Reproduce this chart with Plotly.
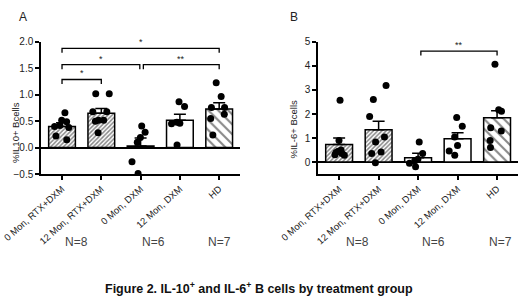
import plotly.graph_objects as go

# ---------------- data ----------------
categories = ["0 Mon, RTX+DXM", "12 Mon, RTX+DXM", "0 Mon, DXM", "12 Mon, DXM", "HD"]

il10_means = [0.40, 0.65, 0.03, 0.52, 0.73]
il10_sems = [0.07, 0.09, 0.15, 0.11, 0.12]
il10_g1 = [0.66, 0.52, 0.49, 0.42, 0.40, 0.38, 0.22, 0.15]
il10_g2 = [1.02, 1.02, 0.68, 0.68, 0.52, 0.52, 0.50, 0.28]
il10_g3 = [0.41, 0.29, 0.19, 0.10, -0.27, -0.49]
il10_g4 = [0.87, 0.78, 0.48, 0.46, 0.45, 0.05]
il10_g5 = [1.23, 0.97, 0.76, 0.76, 0.63, 0.55, 0.24]

il6_means = [0.73, 1.34, 0.18, 0.97, 1.84]
il6_sems = [0.27, 0.36, 0.19, 0.25, 0.30]
il6_g1 = [2.57, 0.90, 0.50, 0.45, 0.40, 0.35, 0.30, 0.28]
il6_g2 = [3.19, 2.60, 1.90, 1.04, 0.83, 0.42, 0.35, -0.03]
il6_g3 = [0.83, 0.35, 0.12, 0.05, -0.05, -0.20]
il6_g4 = [1.85, 1.49, 1.04, 0.69, 0.46, 0.28]
il6_g5 = [4.07, 2.18, 2.11, 1.43, 1.29, 0.90, 0.60]

il10_ticks = [-0.5, 0.0, 0.5, 1.0, 1.5, 2.0]
il6_ticks = [0, 1, 2, 3, 4, 5]

n_labels = ["N=8", "N=6", "N=7"]

# significance comparisons: (group i, group j, label)
il10_sig = [(0, 1, "*"), (0, 2, "*"), (2, 4, "**"), (0, 4, "*")]
il6_sig = [(2, 4, "**")]

# ---------------- styling / layout ----------------
FONT = "Arial, Liberation Sans, sans-serif"
TXT = "#222"
idx = list(range(len(categories)))

fig = go.Figure()

pattern = dict(
    shape=["/", "/", "", "", "\\"],
    size=[3, 3, 8, 8, 7],
    solidity=[0.5, 0.5, 0.2, 0.2, 0.3],
    fgcolor="#111",
    bgcolor="white",
    fillmode="overlay",
)


def add_panel(means, sems, groups, xa, ya):
    fig.add_trace(go.Bar(
        x=idx, y=means, width=0.68, xaxis=xa, yaxis=ya,
        marker=dict(color="white", line=dict(color="black", width=1.5), pattern=pattern),
        error_y=dict(type="data", symmetric=False, array=sems, arrayminus=[0] * len(sems),
                     color="black", thickness=1.5, width=6),
        showlegend=False, hoverinfo="skip",
    ))
    xs, ys = [], []
    for i, g in enumerate(groups):
        xs += [i] * len(g)
        ys += g
    fig.add_trace(go.Box(
        x=xs, y=ys, xaxis=xa, yaxis=ya, boxpoints="all", jitter=0.85, pointpos=0,
        width=0.6, fillcolor="rgba(0,0,0,0)", line=dict(width=0, color="rgba(0,0,0,0)"),
        marker=dict(color="black", size=7), showlegend=False, hoverinfo="skip",
    ))


add_panel(il10_means, il10_sems, [il10_g1, il10_g2, il10_g3, il10_g4, il10_g5], "x", "y")
add_panel(il6_means, il6_sems, [il6_g1, il6_g2, il6_g3, il6_g4, il6_g5], "x2", "y2")

ydom = [0.4332, 0.8632]
xax = dict(range=[-0.535, 4.53], tickvals=idx, ticktext=categories, tickangle=-42,
           showline=True, linecolor="black", linewidth=1.5, ticks="outside", ticklen=4,
           tickwidth=1.5, tickcolor="black", showgrid=False, zeroline=False, automargin=False,
           tickfont=dict(family=FONT, size=9.5, color=TXT))
yax = dict(showline=True, linecolor="black", linewidth=1.5, ticks="outside", ticklen=4,
           tickwidth=1.5, tickcolor="black", showgrid=False, zeroline=True, automargin=False,
           zerolinecolor="black", zerolinewidth=1.5,
           tickfont=dict(family=FONT, size=10, color=TXT), domain=ydom)

fig.update_layout(
    width=520, height=307, margin=dict(l=0, r=0, t=0, b=0, autoexpand=False),
    paper_bgcolor="white", plot_bgcolor="white",
    xaxis=dict(xax, domain=[41 / 520, 240 / 520], anchor="y"),
    yaxis=dict(yax, range=[-0.5, 2.0], tickvals=il10_ticks, tickformat=".1f", anchor="x"),
    xaxis2=dict(xax, domain=[318 / 520, 518 / 520], anchor="y2"),
    yaxis2=dict(yax, range=[-0.5, 5.0], tickvals=il6_ticks, anchor="x2"),
    boxmode="overlay",
)


def add_brackets(sig, yref, xref, levels, leg):
    for (i, j, lab), yv in zip(sig, levels):
        x0 = i + (0.07 if i == 2 else 0)
        x1 = j - (0.02 if j == 2 else 0)
        fig.add_shape(type="path", xref=xref, yref=yref,
                      path=f"M {x0} {yv - leg} L {x0} {yv} L {x1} {yv} L {x1} {yv - leg}",
                      line=dict(color="black", width=1.3))
        fig.add_annotation(x=(x0 + x1) / 2, y=yv, xref=xref, yref=yref, text=lab,
                           showarrow=False, yanchor="bottom", yshift=-1,
                           font=dict(family=FONT, size=9, color=TXT))


add_brackets(il10_sig, "y", "x", [1.29, 1.57, 1.57, 1.88], 0.085)
add_brackets(il6_sig, "y2", "x2", [4.62], 0.18)

# panel letters
fig.add_annotation(x=17 / 520, y=1 - 8 / 307, xref="paper", yref="paper", text="A",
                   showarrow=False, font=dict(family=FONT, size=12, color=TXT))
fig.add_annotation(x=294 / 520, y=1 - 8 / 307, xref="paper", yref="paper", text="B",
                   showarrow=False, font=dict(family=FONT, size=12, color=TXT))

# y titles
fig.add_annotation(x=8 / 520, y=1 - 100 / 307, xref="paper", yref="paper",
                   text="%IL10+ Bcells", textangle=-90, showarrow=False,
                   font=dict(family=FONT, size=9.5, color=TXT))
fig.add_annotation(x=293 / 520, y=1 - 98 / 307, xref="paper", yref="paper",
                   text="%IL-6+ Bcells", textangle=-90, showarrow=False,
                   font=dict(family=FONT, size=9.5, color=TXT))

# N labels
for xr, xs in (("x", [0.38, 2.32, 4.0]), ("x2", [0.46, 2.4, 4.09])):
    for lab, xv in zip(n_labels, xs):
        fig.add_annotation(x=xv, y=1 - 251 / 307, xref=xr, yref="paper", text=lab,
                           showarrow=False, font=dict(family=FONT, size=12, color="#444"))

# caption
fig.add_annotation(x=259 / 520, y=1 - 298 / 307, xref="paper", yref="paper",
                   text="<b>Figure 2. IL-10<sup>+</sup> and IL-6<sup>+</sup> B cells by treatment group</b>",
                   showarrow=False, font=dict(family=FONT, size=12.5, color="#111"))

fig.write_html(
    "out.html",
    config={"displayModeBar": False},
    post_script="document.body.style.margin='0';document.body.style.overflow='hidden';",
)
